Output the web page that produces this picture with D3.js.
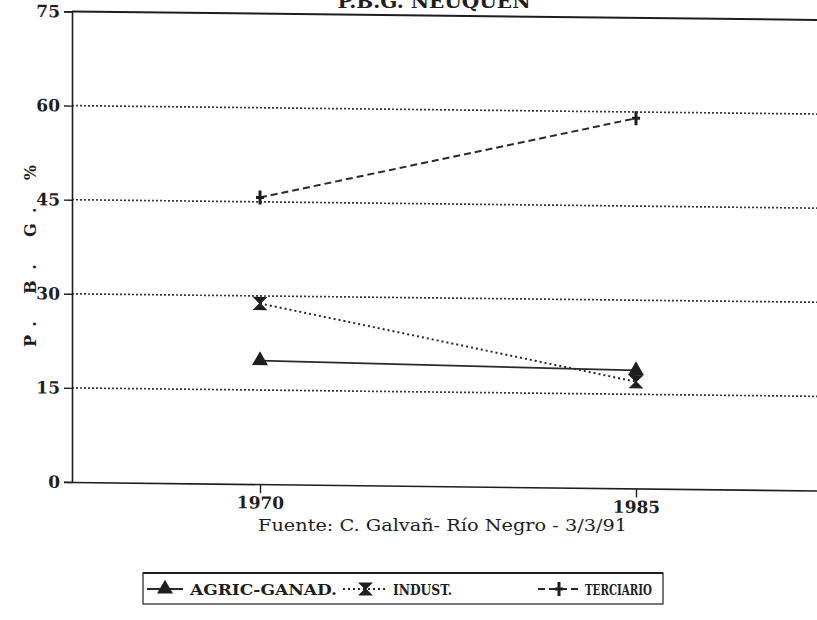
<!DOCTYPE html>
<html>
<head>
<meta charset="utf-8">
<script src="https://cdn.jsdelivr.net/npm/d3@7"></script>
<style>
  html, body { margin: 0; padding: 0; background: #fff; }
  svg { display: block; }
  text { fill: #1e1e1e; }
</style>
</head>
<body>
<svg id="chart" width="817" height="620"></svg>
<script>
// ---- data ----
const years = ["1970", "1985"];
const agro = [19.7, 18.8];
const indust = [28.8, 17.0];
const terciario = [45.7, 59.0];
const seriesNames = ["AGRIC-GANAD.", "INDUST.", "TERCIARIO"];
const yTicks = [0, 15, 30, 45, 60, 75];
const titleText = "P.B.G. NEUQUEN";
const yLabel = "P. B. G. %";
const sourceText = "Fuente: C. Galvañ- Río Negro - 3/3/91";

// ---- layout ----
const W = 817, H = 620;
const mLeft = 72, plotRight = 824, mTop = 11.5, mBottom = 482;
const ink = "#1e1e1e";
const fontMain = "'DejaVu Serif', 'Liberation Serif', serif";

const svg = d3.select("#chart");

const x = d3.scalePoint().domain(years).range([mLeft, plotRight]).padding(0.5);
const y = d3.scaleLinear().domain([0, 75]).range([mBottom, mTop]);

// title (cut off by the top edge, as in the scan)
svg.append("text")
  .attr("x", 434).attr("y", 7.5)
  .attr("text-anchor", "middle")
  .attr("font-family", fontMain).attr("font-weight", "bold").attr("font-size", 18)
  .attr("textLength", 193).attr("lengthAdjust", "spacingAndGlyphs")
  .text(titleText);

// slightly sheared plot group (as in the scan)
const g = svg.append("g")
  .attr("transform", `translate(${mLeft},0) skewY(0.65) translate(${-mLeft},0)`);

// gridlines
g.append("g").selectAll("line")
  .data(yTicks.filter(d => d > 0 && d < 75))
  .join("line")
  .attr("x1", mLeft).attr("x2", W + 10)
  .attr("y1", d => y(d)).attr("y2", d => y(d))
  .attr("stroke", "#3a3a3a").attr("stroke-width", 1.7)
  .attr("stroke-dasharray", "2,2");

// top frame line
g.append("line")
  .attr("x1", mLeft).attr("x2", W + 10)
  .attr("y1", y(75)).attr("y2", y(75))
  .attr("stroke", ink).attr("stroke-width", 2);

// y axis
const yAxis = d3.axisLeft(y).tickValues(yTicks).tickSize(8).tickPadding(4).tickFormat(d3.format("d"));
const ya = g.append("g").attr("transform", `translate(${mLeft},0)`).call(yAxis);
ya.select(".domain").attr("stroke", ink).attr("stroke-width", 1.6);
ya.selectAll(".tick line").attr("stroke", ink).attr("stroke-width", 1.4);
ya.selectAll(".tick text")
  .attr("font-family", fontMain).attr("font-weight", "bold").attr("font-size", 17)
  .attr("fill", ink);

// x axis
const xAxis = d3.axisBottom(x).tickSize(9).tickPadding(7).tickSizeOuter(0);
const xa = g.append("g").attr("transform", `translate(0,${mBottom})`).call(xAxis);
xa.select(".domain").attr("stroke", ink).attr("stroke-width", 1.6);
xa.selectAll(".tick line").attr("stroke", ink).attr("stroke-width", 1.4);
xa.selectAll(".tick text")
  .attr("font-family", fontMain).attr("font-weight", "bold").attr("font-size", 17)
  .attr("fill", ink).attr("dy", "0.5em");

// series
const series = [
  { name: seriesNames[0], values: agro, dash: null, width: 1.8, marker: "tri" },
  { name: seriesNames[1], values: indust, dash: "2,3", width: 2, marker: "hour" },
  { name: seriesNames[2], values: terciario, dash: "7,4", width: 2, marker: "plus" }
];

const line = d3.line().x((d, i) => x(years[i])).y(d => y(d));

function drawMarker(sel, type) {
  if (type === "tri") {
    sel.append("path").attr("d", d3.symbol(d3.symbolTriangle, 110)())
      .attr("fill", ink);
  } else if (type === "hour") {
    sel.append("path").attr("d", "M-6,-6L6,-6L-6,6L6,6Z")
      .attr("fill", ink).attr("stroke", ink).attr("stroke-width", 1.2);
  } else {
    sel.append("path").attr("d", "M0,-7V7M-4,0H4")
      .attr("fill", "none").attr("stroke", ink).attr("stroke-width", 3);
  }
}

series.forEach(s => {
  g.append("path")
    .datum(s.values)
    .attr("d", line)
    .attr("fill", "none")
    .attr("stroke", "#2a2a2a")
    .attr("stroke-width", s.width)
    .attr("stroke-dasharray", s.dash);
  s.values.forEach((v, i) => {
    const m = g.append("g").attr("transform", `translate(${x(years[i])},${y(v)})`);
    drawMarker(m, s.marker);
  });
});

// y axis label
svg.append("text")
  .attr("transform", "translate(36,256) rotate(-90)")
  .attr("text-anchor", "middle")
  .attr("font-family", fontMain).attr("font-weight", "bold").attr("font-size", 16)
  .attr("textLength", 182).attr("lengthAdjust", "spacing")
  .text(yLabel);

// source text
svg.append("text")
  .attr("x", 258).attr("y", 531)
  .attr("font-family", fontMain).attr("font-size", 16)
  .attr("textLength", 369).attr("lengthAdjust", "spacingAndGlyphs")
  .text(sourceText);

// legend
const lg = svg.append("g");
lg.append("rect")
  .attr("x", 143).attr("y", 573).attr("width", 520).attr("height", 31)
  .attr("fill", "none").attr("stroke", ink).attr("stroke-width", 1.2);
lg.append("line")
  .attr("x1", 143).attr("x2", 663).attr("y1", 573).attr("y2", 573)
  .attr("stroke", ink).attr("stroke-width", 2);

const legendItems = [
  { s: series[0], x0: 147, x1: 183, tx: 190, tl: 147 },
  { s: series[1], x0: 343, x1: 388, tx: 393, tl: 59 },
  { s: series[2], x0: 538, x1: 580, tx: 585, tl: 67 }
];
const ly = 589;
legendItems.forEach(it => {
  lg.append("line")
    .attr("x1", it.x0).attr("x2", it.x1).attr("y1", ly).attr("y2", ly)
    .attr("stroke", "#2a2a2a").attr("stroke-width", it.s.width)
    .attr("stroke-dasharray", it.s.dash);
  const m = lg.append("g").attr("transform", `translate(${(it.x0 + it.x1) / 2},${ly})`);
  drawMarker(m, it.s.marker);
  lg.append("text")
    .attr("x", it.tx).attr("y", ly + 6)
    .attr("font-family", fontMain).attr("font-weight", "bold").attr("font-size", 15)
    .attr("textLength", it.tl).attr("lengthAdjust", "spacingAndGlyphs")
    .text(it.s.name);
});
</script>
</body>
</html>
